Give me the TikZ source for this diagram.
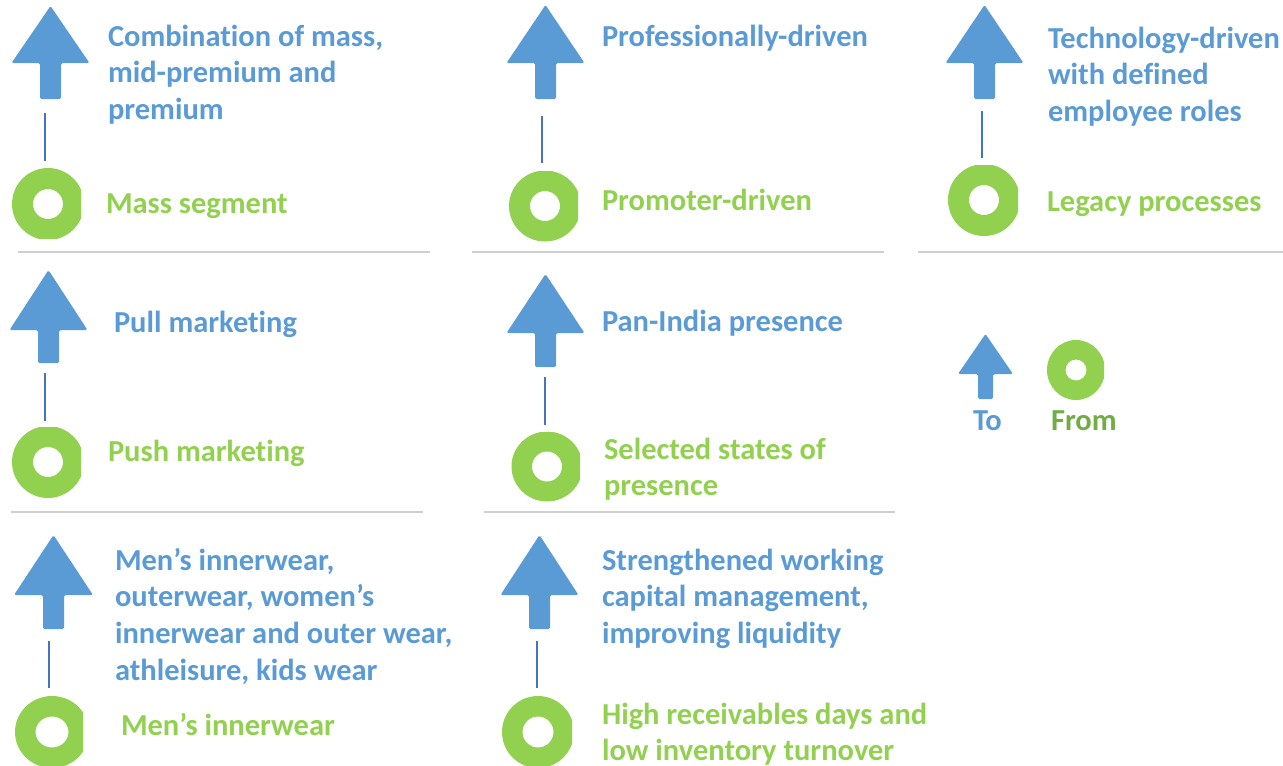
\documentclass[tikz,border=0pt]{standalone}
\usepackage{fontspec}
\setmainfont{Carlito}[Ligatures=NoCommon]
\definecolor{ablue}{HTML}{5B9BD5}
\definecolor{agreen}{HTML}{92D050}
\definecolor{dgreen}{HTML}{70AD47}
\definecolor{lineblue}{HTML}{4472C4}
\definecolor{sepgray}{HTML}{CFCFCF}
% cx, tip y, head-base y, bottom y, head half width, shaft half width
\newcommand\drawtoarrow[6]{%
  \fill[ablue, rounded corners=1.5pt] (#1,#2) -- ({#1+#5},#3) -- ({#1+#6},#3) -- ({#1+#6},#4)
    -- ({#1-#6},#4) -- ({#1-#6},#3) -- ({#1-#5},#3) -- cycle;}
% cx, cy, rx, ry, hole rx, hole ry, clip right x, clip top y, clip bottom y
\newcommand\drawfromring[9]{%
  \begin{scope}
    \clip ({#1-#3-2},#8) rectangle (#7,#9);
    \fill[agreen, even odd rule] (#1,#2) ellipse[x radius=#3, y radius=#4]
      (#1,#2) ellipse[x radius=#5, y radius=#6];
  \end{scope}}
\newcommand\lns[1]{\begin{tabular}[t]{@{}l@{}}#1\end{tabular}}
\begin{document}
\begin{tikzpicture}[x=1pt, y=-1pt,
  txt/.style={anchor=base west, inner sep=0pt, outer sep=0pt,
    font=\fontsize{30.5}{36.8}\selectfont\bfseries},
  totext/.style={txt, text=ablue},
  fromtext/.style={txt, text=agreen},
  conn/.style={draw=lineblue, line width=1.1pt},
  sep/.style={draw=sepgray, line width=1.3pt}]
\useasboundingbox (0,0) rectangle (1283,766);

% ---------- arrows (To) ----------
\drawtoarrow{50.5}{6}{63}{99}{39}{10.5}
\drawtoarrow{48.5}{270}{330}{363}{39}{10.5}
\drawtoarrow{53.5}{535}{595}{629}{39.5}{10.5}
\drawtoarrow{545.5}{5}{63}{99}{39}{10.5}
\drawtoarrow{545.5}{274}{333}{367}{39}{10.5}
\drawtoarrow{539.5}{535}{595}{629}{39}{10.5}
\drawtoarrow{984.5}{5}{63}{99}{39}{10.5}
\drawtoarrow{985.5}{334}{374}{399}{27.5}{7.5}

% ---------- rings (From) ----------
\drawfromring{48}{204}{36}{36}{15}{15}{81}{168}{238}
\drawfromring{48}{462}{36}{36}{15}{15}{81}{427}{497}
\drawfromring{52}{732}{37}{36}{16.5}{15.5}{83}{696}{770}
\drawfromring{545}{206}{36}{35.5}{15}{15}{578}{171}{241}
\drawfromring{547}{466.5}{35.5}{35}{15}{15}{580}{432}{501}
\drawfromring{538}{732}{36}{36}{15.5}{15.5}{572}{696}{770}
\drawfromring{984}{200}{36}{36}{15}{15}{1018}{165}{235}
\drawfromring{1076}{370}{29}{30}{10.5}{10.5}{1104}{340}{401}

% ---------- connectors ----------
\coordinate (a11) at (45,113);  \coordinate (r11) at (45,161);
\coordinate (a12) at (45,373);  \coordinate (r12) at (45,421);
\coordinate (a13) at (49,641);  \coordinate (r13) at (49,688);
\coordinate (a21) at (542,116); \coordinate (r21) at (542,163);
\coordinate (a22) at (545,377); \coordinate (r22) at (545,425);
\coordinate (a23) at (537,641); \coordinate (r23) at (537,688);
\coordinate (a31) at (982,111); \coordinate (r31) at (982,158);
\draw[conn] (a11) -- (r11);
\draw[conn] (a12) -- (r12);
\draw[conn] (a13) -- (r13);
\draw[conn] (a21) -- (r21);
\draw[conn, line width=1.6pt] (a22) -- (r22);
\draw[conn] (a23) -- (r23);
\draw[conn] (a31) -- (r31);

% ---------- separators ----------
\coordinate (s1a) at (18,252);  \coordinate (s1b) at (430,252);
\coordinate (s2a) at (472,252); \coordinate (s2b) at (884,252);
\coordinate (s3a) at (918,252); \coordinate (s3b) at (1283,252);
\coordinate (s4a) at (11,512);  \coordinate (s4b) at (423,512);
\coordinate (s5a) at (484,512); \coordinate (s5b) at (895,512);
\draw[sep] (s1a) -- (s1b);
\draw[sep] (s2a) -- (s2b);
\draw[sep] (s3a) -- (s3b);
\draw[sep] (s4a) -- (s4b);
\draw[sep] (s5a) -- (s5b);

% ---------- texts ----------
\node[totext] (t11) at (108,46) {\lns{Combination of mass,\\mid-premium and\\premium}};
\node[fromtext] (f11) at (106,213) {Mass segment};
\node[totext] (t12) at (114,332) {Pull marketing};
\node[fromtext] (f12) at (108,461) {Push marketing};
\node[totext] (t13) at (115,570) {\lns{Men’s innerwear,\\outerwear, women’s\\innerwear and outer wear,\\athleisure, kids wear}};
\node[fromtext] (f13) at (121,735) {Men’s innerwear};
\node[totext] (t21) at (602,46) {Professionally-driven};
\node[fromtext] (f21) at (602,210) {Promoter-driven};
\node[totext] (t22) at (602,331) {Pan-India presence};
\node[fromtext] (f22) at (604,459) {\lns{Selected states of\\presence}};
\node[totext] (t23) at (602,570) {\lns{Strengthened working\\capital management,\\improving liquidity}};
\node[fromtext] (f23) at (602,724) {\lns{High receivables days and\\low inventory turnover}};
\node[totext] (t31) at (1048,48) {\lns{Technology-driven\\with defined\\employee roles}};
\node[fromtext] (f31) at (1047,211) {Legacy processes};
\node[totext] (lt) at (973,430) {To};
\node[fromtext, text=dgreen] (lf) at (1051,430) {From};
\end{tikzpicture}
\end{document}
